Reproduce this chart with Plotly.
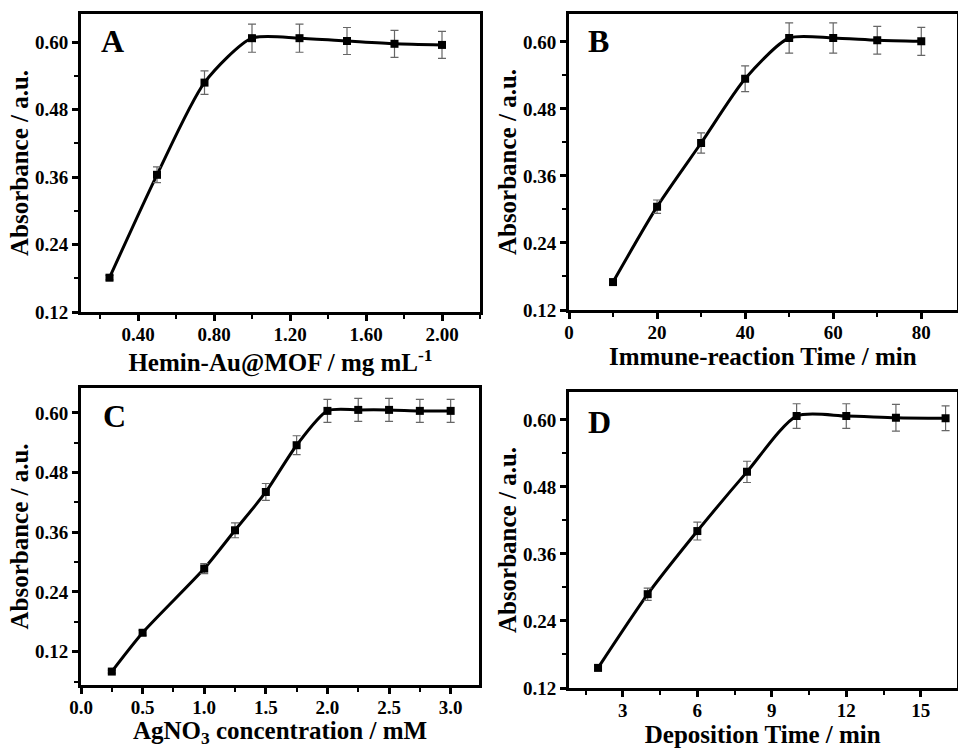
import plotly.graph_objects as go

# ---- data ----
a_x = [0.25, 0.5, 0.75, 1.0, 1.25, 1.5, 1.75, 2.0]
a_y = [0.181, 0.364, 0.528, 0.607, 0.607, 0.602, 0.597, 0.595]
a_err = [0.004, 0.014, 0.021, 0.025, 0.025, 0.024, 0.024, 0.024]

b_x = [10, 20, 30, 40, 50, 60, 70, 80]
b_y = [0.170, 0.305, 0.419, 0.534, 0.607, 0.607, 0.603, 0.601]
b_err = [0.004, 0.012, 0.018, 0.023, 0.027, 0.027, 0.025, 0.025]

c_x = [0.25, 0.5, 1.0, 1.25, 1.5, 1.75, 2.0, 2.25, 2.5, 2.75, 3.0]
c_y = [0.080, 0.158, 0.287, 0.364, 0.441, 0.535, 0.604, 0.606, 0.606, 0.604, 0.604]
c_err = [0.003, 0.005, 0.010, 0.015, 0.017, 0.019, 0.023, 0.023, 0.023, 0.023, 0.023]

d_x = [2, 4, 6, 8, 10, 12, 14, 16]
d_y = [0.156, 0.288, 0.401, 0.507, 0.607, 0.607, 0.604, 0.603]
d_err = [0.004, 0.011, 0.016, 0.019, 0.022, 0.022, 0.024, 0.022]

panel_letters = ["A", "B", "C", "D"]
x_titles = ["Hemin-Au@MOF / mg mL<sup>-1</sup>",
            "Immune-reaction Time / min",
            "AgNO<sub>3</sub> concentration / mM",
            "Deposition Time / min"]
y_title = "Absorbance / a.u."

y_ticks = [0.12, 0.24, 0.36, 0.48, 0.60]
a_ticks = [0.40, 0.80, 1.20, 1.60, 2.00]
b_ticks = [0, 20, 40, 60, 80]
c_ticks = [0.0, 0.5, 1.0, 1.5, 2.0, 2.5, 3.0]
d_ticks = [3, 6, 9, 12, 15]

FONT = "Liberation Serif"
W, H = 958, 748

fig = go.Figure()

panels = [
    (a_x, a_y, a_err, "x", "y"),
    (b_x, b_y, b_err, "x2", "y2"),
    (c_x, c_y, c_err, "x3", "y3"),
    (d_x, d_y, d_err, "x4", "y4"),
]
for xs, ys, es, xa, ya in panels:
    fig.add_trace(go.Scatter(
        x=xs, y=ys, mode="lines", xaxis=xa, yaxis=ya,
        line=dict(color="black", width=3, shape="spline", smoothing=0.7),
        showlegend=False, hoverinfo="skip"))
    fig.add_trace(go.Scatter(
        x=xs, y=ys, mode="markers", xaxis=xa, yaxis=ya,
        marker=dict(symbol="square", size=8, color="black"),
        error_y=dict(type="data", array=es, color="#666666", thickness=1.2, width=4),
        showlegend=False))

# pixel boxes -> domains
def xd(l, r):
    return [l / W, r / W]

def yd(t, b):
    return [1 - b / H, 1 - t / H]

tickfont = dict(family=FONT, size=19, color="black", weight="bold")
titlefont = dict(family=FONT, size=25, color="black", weight="bold")

def xaxis(dom, rng, tickvals, ticktext, minor_dtick, title, anchor, standoff):
    return dict(domain=dom, range=rng, anchor=anchor, automargin=False,
                tickmode="array", tickvals=tickvals, ticktext=ticktext,
                ticks="outside", ticklen=6, tickwidth=2.5, tickcolor="black",
                ticklabelstandoff=-3,
                minor=dict(ticks="outside", ticklen=4, tickwidth=2, tickcolor="black",
                           dtick=minor_dtick, tick0=0),
                showline=True, linewidth=3, linecolor="black", mirror=True,
                showgrid=False, zeroline=False, tickfont=tickfont,
                title=dict(text=title, font=titlefont, standoff=standoff))

def yaxis(dom, rng, anchor):
    return dict(domain=dom, range=rng, anchor=anchor, automargin=False,
                tickmode="array", tickvals=y_ticks,
                ticktext=[f"{v:.2f}" for v in y_ticks],
                ticks="outside", ticklen=6, tickwidth=2.5, tickcolor="black",
                minor=dict(ticks="outside", ticklen=4, tickwidth=2, tickcolor="black",
                           dtick=0.06, tick0=0),
                showline=True, linewidth=3, linecolor="black", mirror=True,
                showgrid=False, zeroline=False, tickfont=tickfont,
                title=dict(text=y_title, font=titlefont, standoff=0))

fig.update_layout(
    width=W, height=H,
    margin=dict(l=0, r=0, t=0, b=0),
    paper_bgcolor="white", plot_bgcolor="white",
    xaxis=xaxis(xd(81, 480), [0.1, 2.2], a_ticks, [f"{v:.2f}" for v in a_ticks], 0.2, x_titles[0], "y", 0),
    yaxis=yaxis(yd(14, 312), [0.12, 0.65], "x"),
    xaxis2=xaxis(xd(569, 956.5), [0, 88], b_ticks, [str(v) for v in b_ticks], 10, x_titles[1], "y2", 2),
    yaxis2=yaxis(yd(14, 310), [0.12, 0.65], "x2"),
    xaxis3=xaxis(xd(81, 479), [0, 3.23], c_ticks, [f"{v:.1f}" for v in c_ticks], 0.25, x_titles[2], "y3", 7),
    yaxis3=yaxis(yd(388, 685), [0.053, 0.65], "x3"),
    xaxis4=xaxis(xd(569, 956.5), [0.83, 16.44], d_ticks, [str(v) for v in d_ticks], 1.5, x_titles[3], "y4", 2),
    yaxis4=yaxis(yd(392, 688), [0.12, 0.65], "x4"),
)

letter_pos = [("x", "y", 0.045, 0.91), ("x2", "y2", 0.045, 0.91),
              ("x3", "y3", 0.05, 0.905), ("x4", "y4", 0.045, 0.90)]
for letter, (xa, ya, px, py) in zip(panel_letters, letter_pos):
    fig.add_annotation(text=letter, xref=f"{xa} domain", yref=f"{ya} domain",
                       x=px, y=py, xanchor="left", yanchor="middle", showarrow=False,
                       font=dict(family=FONT, size=32, color="black", weight="bold"))

fig.write_html(
    "out.html",
    config={"displayModeBar": False},
    post_script="document.body.style.margin='0';document.body.style.overflow='hidden';",
)
